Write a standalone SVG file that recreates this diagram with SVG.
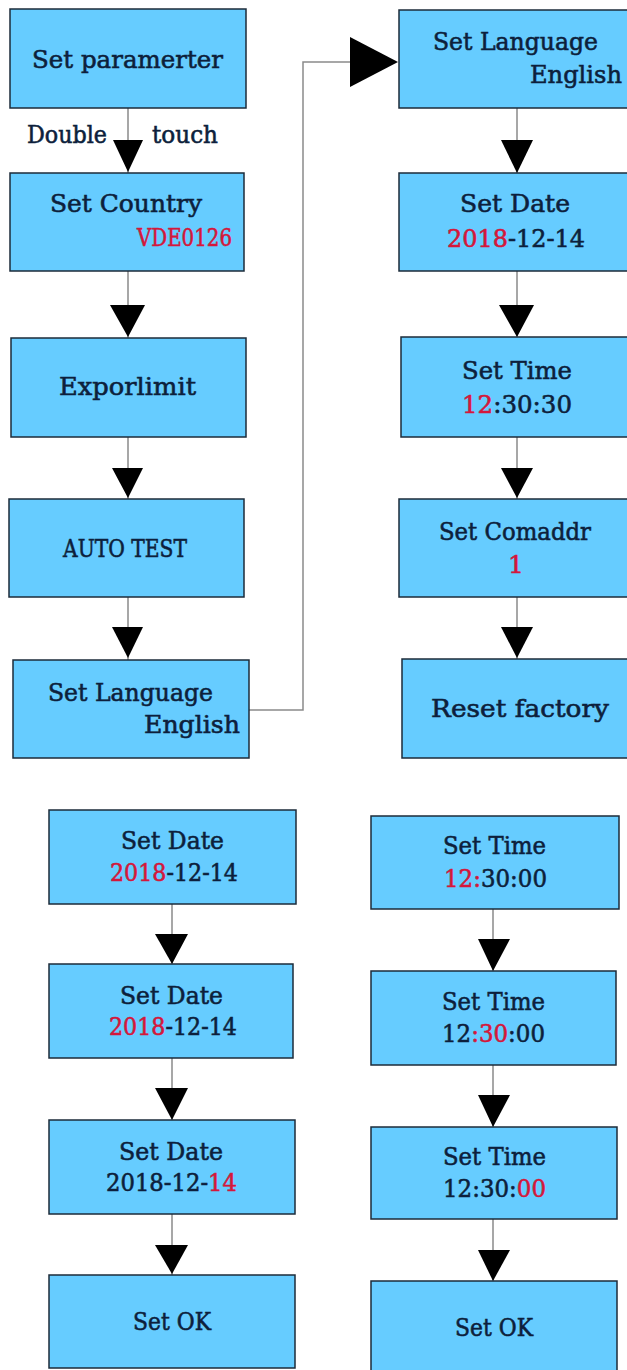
<svg xmlns="http://www.w3.org/2000/svg" width="627" height="1370" viewBox="0 0 627 1370">
<style>
.box{fill:#66ccff;stroke:#1c2b3a;stroke-width:1.5}
.t{font-family:"DejaVu Serif","Liberation Serif",serif;font-size:25px;fill:#0d1f3c;stroke:#0d1f3c;stroke-width:0.6}
.m{text-anchor:middle}
.r{fill:#d4173b;stroke:#d4173b}
.ln{fill:none;stroke:#8a8a8a;stroke-width:1.5}
.ah{fill:#000}
</style>
<rect width="627" height="1370" fill="#fff"/>
<g id="connectors">
<line class="ln" x1="128" y1="108" x2="128" y2="173"/>
<polygon class="ah" points="113,140 143,140 128,172"/>
<line class="ln" x1="128" y1="271" x2="128" y2="338"/>
<polygon class="ah" points="110,305 145,305 128,337"/>
<line class="ln" x1="128" y1="437" x2="128" y2="499"/>
<polygon class="ah" points="112,468 143,468 128,498"/>
<line class="ln" x1="128" y1="597" x2="128" y2="660"/>
<polygon class="ah" points="112,627 143,627 128,658"/>
<polyline class="ln" points="249,710 303,710 303,62 352,62"/>
<polygon class="ah" points="350,37 350,87 398,62"/>
<line class="ln" x1="517" y1="108" x2="517" y2="173"/>
<polygon class="ah" points="501,140 533,140 517,173"/>
<line class="ln" x1="517" y1="271" x2="517" y2="337"/>
<polygon class="ah" points="499,305 534,305 517,337"/>
<line class="ln" x1="517" y1="437" x2="517" y2="499"/>
<polygon class="ah" points="501,468 533,468 517,498"/>
<line class="ln" x1="517" y1="597" x2="517" y2="659"/>
<polygon class="ah" points="501,627 533,627 517,658"/>
<line class="ln" x1="172" y1="904" x2="172" y2="964"/>
<polygon class="ah" points="155,934 188,934 172,964"/>
<line class="ln" x1="172" y1="1058" x2="172" y2="1120"/>
<polygon class="ah" points="155,1088 188,1088 172,1120"/>
<line class="ln" x1="172" y1="1214" x2="172" y2="1275"/>
<polygon class="ah" points="155,1245 188,1245 172,1274"/>
<line class="ln" x1="493" y1="909" x2="493" y2="971"/>
<polygon class="ah" points="478,939 510,939 493,971"/>
<line class="ln" x1="493" y1="1065" x2="493" y2="1127"/>
<polygon class="ah" points="478,1095 510,1095 493,1127"/>
<line class="ln" x1="493" y1="1219" x2="493" y2="1281"/>
<polygon class="ah" points="478,1250 510,1250 493,1281"/>
<text class="t" x="27" y="143" textLength="80" lengthAdjust="spacingAndGlyphs">Double</text>
<text class="t" x="152" y="143" textLength="66" lengthAdjust="spacingAndGlyphs">touch</text>
</g>
<g id="n1"><rect class="box" x="10" y="9" width="236" height="99"/>
<text class="t" x="32" y="68" textLength="191" lengthAdjust="spacingAndGlyphs">Set paramerter</text></g>
<g id="n2"><rect class="box" x="10" y="173" width="234" height="98"/>
<text class="t" x="50" y="212" textLength="152" lengthAdjust="spacingAndGlyphs">Set Country</text>
<text class="t r" x="137" y="246" textLength="95" lengthAdjust="spacingAndGlyphs">VDE0126</text></g>
<g id="n3"><rect class="box" x="11" y="338" width="235" height="99"/>
<text class="t" x="59" y="395" textLength="137" lengthAdjust="spacingAndGlyphs">Exporlimit</text></g>
<g id="n4"><rect class="box" x="9" y="499" width="235" height="98"/>
<text class="t" x="63" y="557" textLength="124" lengthAdjust="spacingAndGlyphs">AUTO TEST</text></g>
<g id="n5"><rect class="box" x="13" y="660" width="236" height="98"/>
<text class="t" x="48" y="701" textLength="165" lengthAdjust="spacingAndGlyphs">Set Language</text>
<text class="t" x="144" y="733" textLength="96" lengthAdjust="spacingAndGlyphs">English</text></g>
<g id="n6"><rect class="box" x="399" y="10" width="232" height="98"/>
<text class="t" x="433" y="50" textLength="165" lengthAdjust="spacingAndGlyphs">Set Language</text>
<text class="t" x="530" y="83" textLength="92" lengthAdjust="spacingAndGlyphs">English</text></g>
<g id="n7"><rect class="box" x="399" y="173" width="232" height="98"/>
<text class="t" x="460" y="212" textLength="110" lengthAdjust="spacingAndGlyphs">Set Date</text>
<text class="t" x="447" y="247" textLength="138" lengthAdjust="spacingAndGlyphs"><tspan class="r">2018</tspan>-12-14</text></g>
<g id="n8"><rect class="box" x="401" y="337" width="230" height="100"/>
<text class="t" x="462" y="379" textLength="110" lengthAdjust="spacingAndGlyphs">Set Time</text>
<text class="t" x="462" y="413" textLength="110" lengthAdjust="spacingAndGlyphs"><tspan class="r">12</tspan>:30:30</text></g>
<g id="n9"><rect class="box" x="399" y="499" width="232" height="98"/>
<text class="t" x="439" y="540" textLength="152" lengthAdjust="spacingAndGlyphs">Set Comaddr</text>
<text class="t m r" x="516" y="573">1</text></g>
<g id="n10"><rect class="box" x="402" y="659" width="229" height="99"/>
<text class="t" x="431" y="717" textLength="178" lengthAdjust="spacingAndGlyphs">Reset factory</text></g>
<g id="n11"><rect class="box" x="49" y="810" width="247" height="94"/>
<text class="t" x="121" y="849" textLength="103" lengthAdjust="spacingAndGlyphs">Set Date</text>
<text class="t" x="110" y="881" textLength="128" lengthAdjust="spacingAndGlyphs"><tspan class="r">2018</tspan>-12-14</text></g>
<g id="n12"><rect class="box" x="49" y="964" width="244" height="94"/>
<text class="t" x="120" y="1004" textLength="103" lengthAdjust="spacingAndGlyphs">Set Date</text>
<text class="t" x="109" y="1035" textLength="128" lengthAdjust="spacingAndGlyphs"><tspan class="r">2018</tspan>-12-14</text></g>
<g id="n13"><rect class="box" x="49" y="1120" width="246" height="94"/>
<text class="t" x="119" y="1160" textLength="104" lengthAdjust="spacingAndGlyphs">Set Date</text>
<text class="t" x="106" y="1191" textLength="131" lengthAdjust="spacingAndGlyphs">2018-12-<tspan class="r">14</tspan></text></g>
<g id="n14"><rect class="box" x="49" y="1275" width="246" height="93"/>
<text class="t" x="133" y="1330" textLength="78" lengthAdjust="spacingAndGlyphs">Set OK</text></g>
<g id="n15"><rect class="box" x="371" y="816" width="248" height="93"/>
<text class="t" x="443" y="854" textLength="103" lengthAdjust="spacingAndGlyphs">Set Time</text>
<text class="t" x="444" y="887" textLength="103" lengthAdjust="spacingAndGlyphs"><tspan class="r">12:</tspan>30:00</text></g>
<g id="n16"><rect class="box" x="371" y="971" width="245" height="94"/>
<text class="t" x="442" y="1010" textLength="103" lengthAdjust="spacingAndGlyphs">Set Time</text>
<text class="t" x="442" y="1042" textLength="103" lengthAdjust="spacingAndGlyphs">12<tspan class="r">:30</tspan>:00</text></g>
<g id="n17"><rect class="box" x="371" y="1127" width="246" height="92"/>
<text class="t" x="443" y="1165" textLength="103" lengthAdjust="spacingAndGlyphs">Set Time</text>
<text class="t" x="443" y="1197" textLength="103" lengthAdjust="spacingAndGlyphs">12:30:<tspan class="r">00</tspan></text></g>
<g id="n18"><rect class="box" x="371" y="1281" width="246" height="92"/>
<text class="t" x="455" y="1336" textLength="78" lengthAdjust="spacingAndGlyphs">Set OK</text></g>
</svg>
